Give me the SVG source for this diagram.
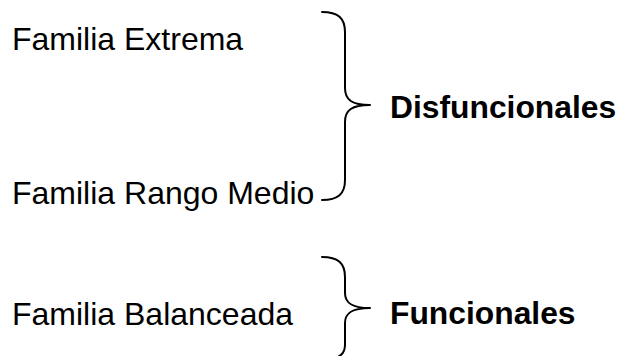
<svg xmlns="http://www.w3.org/2000/svg" width="621" height="356" viewBox="0 0 621 356">
<style>
.t{font-family:"Liberation Sans",Arial,sans-serif;font-size:32px;fill:#000}
.b{font-family:"Liberation Sans",Arial,sans-serif;font-size:31.8px;font-weight:bold;fill:#000}
.br{fill:none;stroke:#000;stroke-width:2;stroke-linecap:round;stroke-linejoin:round}
</style>
<rect width="621" height="356" fill="#fff"/>
<g id="extrema"><text class="t" x="12" y="50">Familia Extrema</text></g>
<g id="rango-medio"><text class="t" x="12" y="204">Familia Rango Medio</text></g>
<g id="balanceada"><text class="t" x="12" y="325">Familia Balanceada</text></g>
<g id="disfuncionales"><text class="b" x="390" y="118">Disfuncionales</text></g>
<g id="funcionales"><text class="b" x="390" y="324">Funcionales</text></g>
<g id="connectors">
<path class="br" d="M322,12 C338,12 345,18 345,32 L345,88 C345,100 352,105 370,105 C352,105 345,110 345,122 L345,180 C345,194 338,200 322,200"/>
<path class="br" d="M322,257 C338,257 345,263 345,277 L345,293 C345,303 352,308 370,308 C352,308 345,313 345,323 L345,345 C345,355 338,360 322,360"/>
</g>
</svg>
